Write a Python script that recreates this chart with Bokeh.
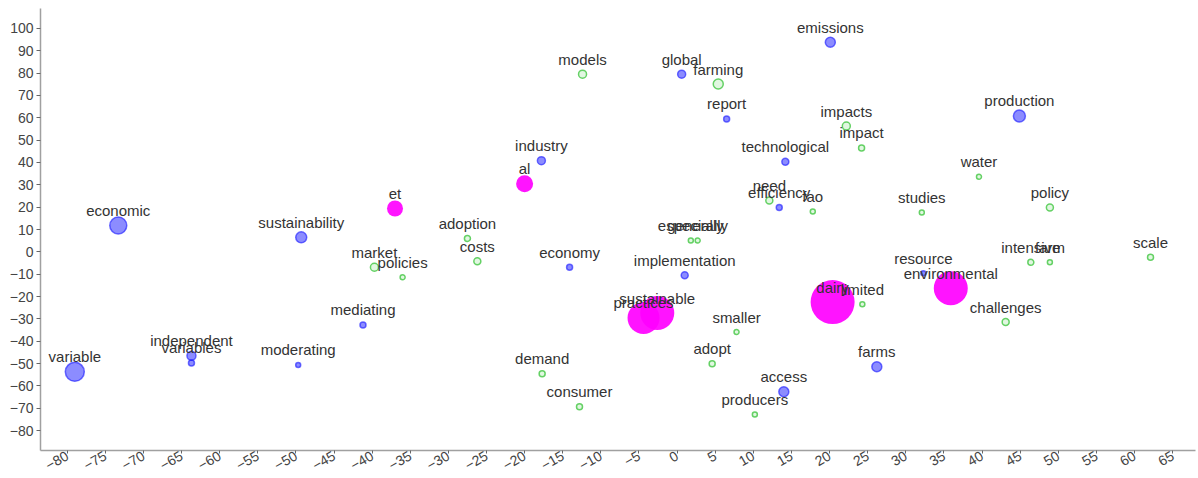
import math
from bokeh.plotting import figure
from bokeh.models import ColumnDataSource, FixedTicker, Range1d
from bokeh.core.properties import value
from bokeh.embed import file_html
from bokeh.resources import INLINE

# ---- data ----
blue_words = ["emissions", "global", "report", "production", "industry", "technological",
              "efficiency", "economic", "sustainability", "economy", "implementation",
              "resource", "mediating", "independent", "variables", "moderating",
              "variable", "farms", "access"]
blue_x = [20.1, 0.6, 6.5, 44.9, -17.8, 14.2, 13.4, -73.3, -49.3, -14.1, 1.0,
          32.3, -41.2, -63.7, -63.7, -49.7, -79.0, 26.2, 14.0]
blue_y = [93.8, 79.5, 59.5, 60.8, 40.8, 40.3, 19.8, 11.8, 6.5, -6.9, -10.5,
          -9.6, -32.7, -46.5, -49.7, -50.6, -53.7, -51.4, -62.6]
blue_size = [10, 8, 6, 12, 8, 7, 6, 17, 11, 6, 7, 5, 6, 9, 6, 5, 19, 10, 10]

green_words = ["models", "farming", "impacts", "impact", "water", "need", "fao", "studies",
               "policy", "adoption", "especially", "generally", "costs", "market", "policies",
               "intensive", "farm", "scale", "limited", "challenges", "smaller", "adopt",
               "demand", "consumer", "producers"]
green_x = [-12.4, 5.4, 22.2, 24.2, 39.6, 12.1, 17.8, 32.1, 48.9, -27.5, 1.8, 2.7,
           -26.2, -39.7, -36.0, 46.4, 48.9, 62.1, 24.3, 43.1, 7.8, 4.6, -17.7, -12.8, 10.2]
green_y = [79.5, 75.1, 56.3, 46.5, 33.6, 23.0, 18.0, 17.6, 19.8, 6.0, 5.1, 5.1,
           -4.2, -6.9, -11.4, -4.7, -4.7, -2.4, -23.4, -31.4, -35.9, -50.1, -54.6, -69.3, -72.8]
green_size = [8, 10, 8, 6, 5, 7, 5, 5, 7, 6, 5, 5, 7, 8, 5, 6, 5, 6, 5, 7, 5, 6, 6, 6, 5]

mag_words = ["et", "al", "practices", "sustainable", "dairy", "environmental"]
mag_x = [-37.0, -20.0, -4.4, -2.6, 20.4, 35.9]
mag_y = [19.4, 30.5, -29.6, -27.4, -22.5, -16.3]
mag_size = [16, 17, 32, 34, 44, 34]

x_ticks = list(range(-80, 66, 5))
y_ticks = list(range(-80, 101, 10))

# ---- figure ----
p = figure(width=1198, height=478, x_range=Range1d(-83.5, 68), y_range=Range1d(-88.9, 108.9),
           output_backend="svg", toolbar_location=None,
           min_border_top=8, min_border_right=3, min_border_left=40, min_border_bottom=26)
p.outline_line_color = None
p.grid.visible = False
p.background_fill_color = "white"

for ax in (p.xaxis[0], p.yaxis[0]):
    ax.axis_line_color = "#a0a0a0"
    ax.axis_line_width = 1.5
    ax.major_tick_line_color = "#666666"
    ax.major_tick_in = 0
    ax.major_tick_out = 4
    ax.minor_tick_line_color = None
    ax.major_label_text_font = "Liberation Sans"
    ax.major_label_text_font_size = "14px"
    ax.major_label_text_color = "#444444"
    ax.major_label_standoff = 3

p.xaxis.ticker = FixedTicker(ticks=x_ticks)
p.yaxis.ticker = FixedTicker(ticks=y_ticks)
p.xaxis.major_label_orientation = math.pi / 6
p.xaxis.major_label_standoff = 1
p.xaxis.major_tick_out = 3
p.xaxis.major_label_text_align = "center"

green_src = ColumnDataSource(dict(x=green_x, y=green_y, s=green_size, w=green_words))
blue_src = ColumnDataSource(dict(x=blue_x, y=blue_y, s=blue_size, w=blue_words))
mag_src = ColumnDataSource(dict(x=mag_x, y=mag_y, s=mag_size, w=mag_words))

p.scatter("x", "y", size="s", source=green_src, fill_color="#33cc33", fill_alpha=0.15,
          line_color="#55cc55", line_alpha=0.9, line_width=1.5)
p.scatter("x", "y", size="s", source=blue_src, fill_color="#0000ff", fill_alpha=0.45,
          line_color="#2222ff", line_alpha=0.65, line_width=1.5)
p.scatter("x", "y", size="s", source=mag_src, fill_color="#ff00ff", fill_alpha=0.92,
          line_color=None)

for src in (green_src, blue_src, mag_src):
    p.text("x", "y", text="w", source=src, text_align="center", text_baseline="middle",
           y_offset=-15, text_font=value("Liberation Sans"), text_font_size="15px",
           text_color="#333333")

open("out.html", "w").write(file_html(p, INLINE))
